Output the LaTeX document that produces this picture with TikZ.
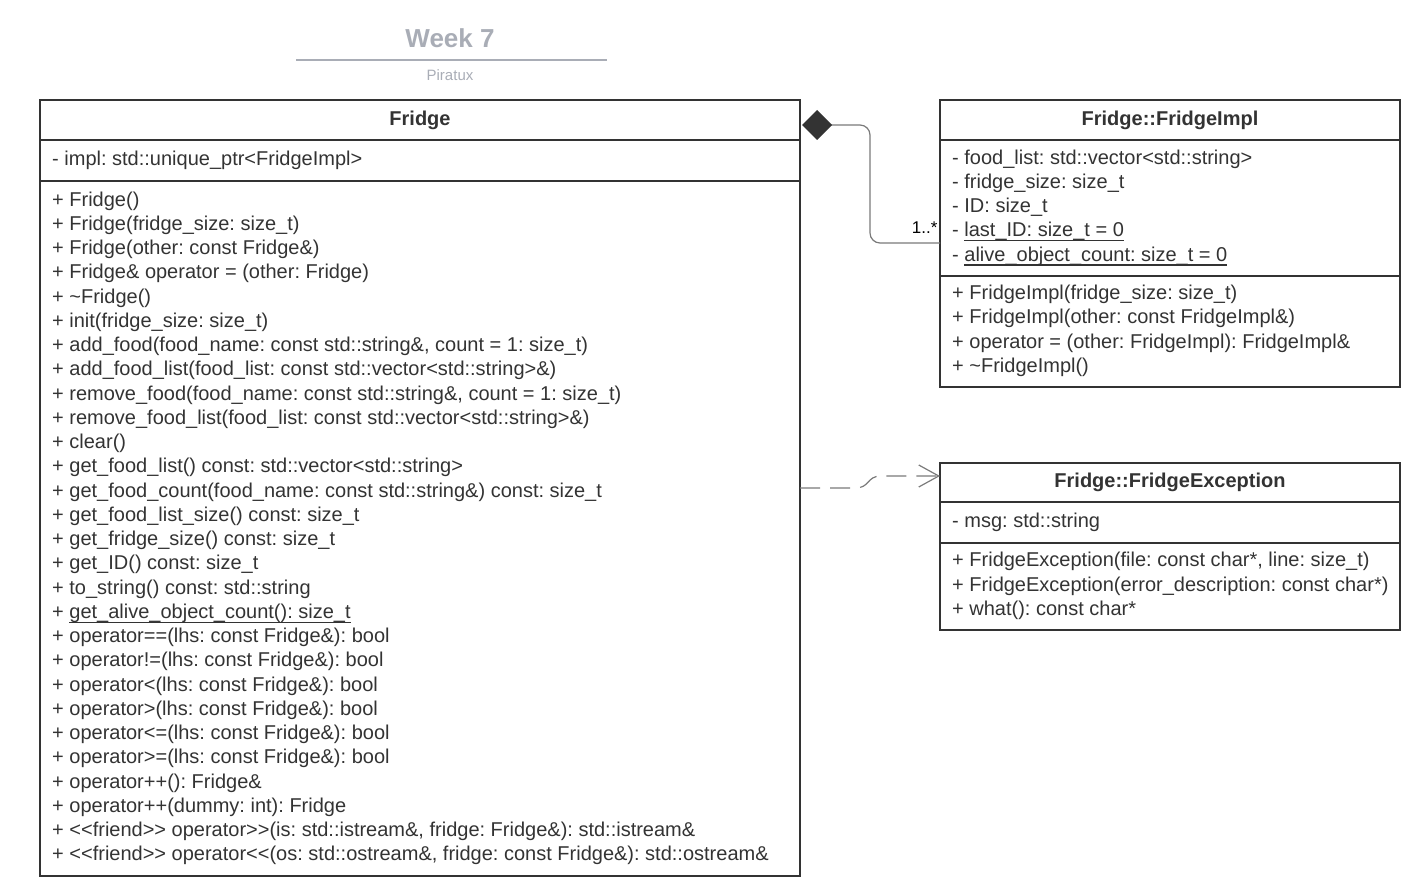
\documentclass[tikz,border=0pt]{standalone}
\usepackage{fontspec}
\setmainfont{Liberation Sans}[Ligatures=TeXOff]
\usepackage{tikz}
\usetikzlibrary{
    arrows.meta,
    positioning,
    fit
}
\definecolor{umlline}{HTML}{333333}
\definecolor{umltext}{HTML}{333333}
\definecolor{titlegray}{HTML}{A9ADB6}
\definecolor{linkgray}{HTML}{7A7A7A}
\newcommand{\umlsize}{\fontsize{20}{24.25}\selectfont}
\newcommand{\staticmember}[1]{\setbox0\hbox{#1}\rlap{\rule[-4.5pt]{\wd0}{1.3pt}}\box0}
\frenchspacing

\begin{document}
\begin{tikzpicture}[
x=1pt, y=-1pt,
classhead/.style={
draw=umlline,
line width=2pt,
outer sep=0pt,
inner sep=0pt,
font=\umlsize\bfseries,
text=umltext
},
classpart/.style={
draw=umlline,
line width=2pt,
outer sep=0pt,
inner sep=0pt
},
members/.style={
align=left,
inner sep=0pt,
anchor=west,
font=\umlsize,
text=umltext,
execute at begin node=\strut,
execute at end node=\strut
},
link/.style={
draw=linkgray,
line width=1.2pt
}
]

\useasboundingbox (0,0) rectangle (1410,885);

\node[font=\fontsize{26}{30}\selectfont\bfseries, text=titlegray] (title) at (450,38)
{Week 7};
\draw[titlegray, line width=2pt] (296,60) -- (607,60);
\node[font=\fontsize{15}{18}\selectfont, text=titlegray] (author) at (450,75)
{Piratux};

\node[classhead, minimum width=760pt, minimum height=40pt,
anchor=north west] (fridgehead) at (40,100)
{Fridge};

\node[classpart, minimum width=760pt, minimum height=41pt,
below=0pt of fridgehead] (fridgeattr) {};

\node[classpart, minimum width=760pt, minimum height=695pt,
below=0pt of fridgeattr] (fridgeops) {};

\node[fit=(fridgehead)(fridgeops), inner sep=0pt] (fridge) {};

\node[members, right=12pt of fridgeattr.west, yshift=-0.5pt] (fridgeattrtext)
{- impl: std::unique\_ptr<FridgeImpl>};

\node[members, right=12pt of fridgeops.west, yshift=-1.5pt] (fridgeopstext)
{+ Fridge()\\
+ Fridge(fridge\_size: size\_t)\\
+ Fridge(other: const Fridge\&)\\
+ Fridge\& operator = (other: Fridge)\\
+ \textasciitilde Fridge()\\
+ init(fridge\_size: size\_t)\\
+ add\_food(food\_name: const std::string\&, count = 1: size\_t)\\
+ add\_food\_list(food\_list: const std::vector<std::string>\&)\\
+ remove\_food(food\_name: const std::string\&, count = 1: size\_t)\\
+ remove\_food\_list(food\_list: const std::vector<std::string>\&)\\
+ clear()\\
+ get\_food\_list() const: std::vector<std::string>\\
+ get\_food\_count(food\_name: const std::string\&) const: size\_t\\
+ get\_food\_list\_size() const: size\_t\\
+ get\_fridge\_size() const: size\_t\\
+ get\_ID() const: size\_t\\
+ to\_string() const: std::string\\
+ \staticmember{get\_alive\_object\_count(): size\_t}\\
+ operator==(lhs: const Fridge\&): bool\\
+ operator!=(lhs: const Fridge\&): bool\\
+ operator<(lhs: const Fridge\&): bool\\
+ operator>(lhs: const Fridge\&): bool\\
+ operator<=(lhs: const Fridge\&): bool\\
+ operator>=(lhs: const Fridge\&): bool\\
+ operator++(): Fridge\&\\
+ operator++(dummy: int): Fridge\\
+ <<friend>> operator>>(is: std::istream\&, fridge: Fridge\&): std::istream\&\\
+ <<friend>> operator<<(os: std::ostream\&, fridge: const Fridge\&): std::ostream\&};

\node[classhead, minimum width=460pt, minimum height=40pt,
anchor=north west] (implhead) at (940,100)
{Fridge::FridgeImpl};

\node[classpart, minimum width=460pt, minimum height=136pt,
below=0pt of implhead] (implattr) {};

\node[classpart, minimum width=460pt, minimum height=111pt,
below=0pt of implattr] (implops) {};

\node[members, right=12pt of implattr.west, yshift=-1pt] (implattrtext)
{- food\_list: std::vector<std::string>\\
- fridge\_size: size\_t\\
- ID: size\_t\\
- \staticmember{last\_ID: size\_t = 0}\\
- \staticmember{alive\_object\_count: size\_t = 0}};

\node[members, right=12pt of implops.west, yshift=-1pt] (implopstext)
{+ FridgeImpl(fridge\_size: size\_t)\\
+ FridgeImpl(other: const FridgeImpl\&)\\
+ operator = (other: FridgeImpl): FridgeImpl\&\\
+ \textasciitilde FridgeImpl()};

\node[classhead, minimum width=460pt, minimum height=39pt,
anchor=north west] (exchead) at (940,463)
{Fridge::FridgeException};

\node[classpart, minimum width=460pt, minimum height=41pt,
below=0pt of exchead] (excattr) {};

\node[classpart, minimum width=460pt, minimum height=87pt,
below=0pt of excattr] (excops) {};

\node[members, right=12pt of excattr.west] (excattrtext)
{- msg: std::string};

\node[members, right=12pt of excops.west, yshift=-1pt] (excopstext)
{+ FridgeException(file: const char*, line: size\_t)\\
+ FridgeException(error\_description: const char*)\\
+ what(): const char*};

\draw[link, rounded corners=10pt,
{Diamond[length=30pt, width=30pt, color=umlline, fill=umlline]}-]
([xshift=2pt, yshift=-5pt]fridgehead.east) -- ++(68,0)
|- ([yshift=-35pt]implattr.west)
node[anchor=south east, inner xsep=2pt, inner ysep=9pt,
font=\fontsize{17}{20}\selectfont, text=black] (mult) {1..*};

\draw[link, dash pattern=on 20pt off 10pt,
-{Straight Barb[length=20pt, width=22pt]}]
(fridge.east) -- ++(55,0)
.. controls +(15,0) and +(-15,0) .. ++(26,-12)
-- ([yshift=6.5pt]exchead.west);

\end{tikzpicture}
\end{document}
